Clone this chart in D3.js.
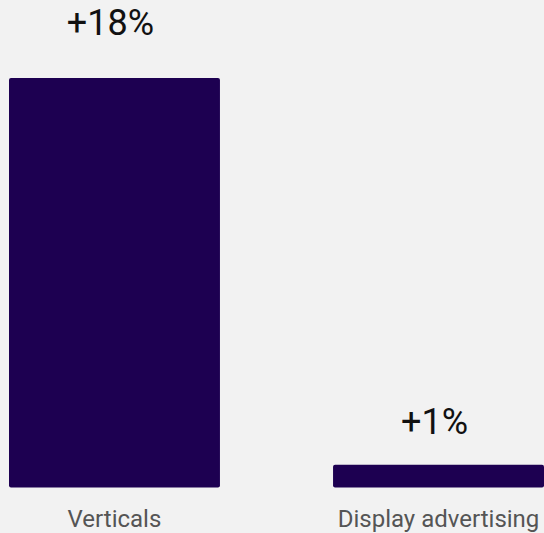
<!DOCTYPE html>
<html>
<head>
<meta charset="utf-8">
<script src="https://cdn.jsdelivr.net/npm/d3@7"></script>
<style>
  html, body { margin: 0; padding: 0; background: #f2f2f2; }
  svg { display: block; }
</style>
</head>
<body>
<div id="chart"></div>
<script>
// Growth by segment
const categories = ["Verticals", "Display advertising"];
const growth = [18, 1];
const valueLabels = ["+18%", "+1%"];

const width = 544, height = 533;

const svg = d3.select("#chart").append("svg")
  .attr("width", width)
  .attr("height", height)
  .style("background", "#f2f2f2");

const x = d3.scaleBand()
  .domain(categories)
  .range([9, 544])
  .paddingInner(0.349)
  .paddingOuter(0);

const y = d3.scaleLinear()
  .domain([0, 18])
  .range([487.5, 78]);

// baseline for the value labels above each bar
const yLabel = d3.scaleLinear()
  .domain([0, 18])
  .range([457.5, 35]);

const data = categories.map((c, i) => ({ c, v: growth[i], label: valueLabels[i] }));

svg.selectAll("rect.bar")
  .data(data)
  .join("rect")
  .attr("class", "bar")
  .attr("x", d => x(d.c))
  .attr("y", d => y(d.v))
  .attr("width", x.bandwidth())
  .attr("height", d => y(0) - y(d.v))
  .attr("rx", 2)
  .attr("fill", "#1d0051");

svg.selectAll("text.value")
  .data(data)
  .join("text")
  .attr("class", "value")
  .attr("x", d => x(d.c) + x.bandwidth() / 2 - 4)
  .attr("y", d => yLabel(d.v))
  .attr("text-anchor", "middle")
  .attr("font-family", "Roboto, sans-serif")
  .attr("font-size", 36)
  .attr("fill", "#111")
  .text(d => d.label);

// category axis below the bars
const axis = svg.append("g")
  .attr("transform", `translate(0,${y(0)})`)
  .call(d3.axisBottom(x).tickSize(0).tickPadding(0));
axis.select(".domain").remove();
axis.selectAll("text")
  .attr("y", 39.5)
  .attr("dy", null)
  .attr("font-family", "Roboto, sans-serif")
  .attr("font-size", 24)
  .attr("fill", "#555");
</script>
</body>
</html>
